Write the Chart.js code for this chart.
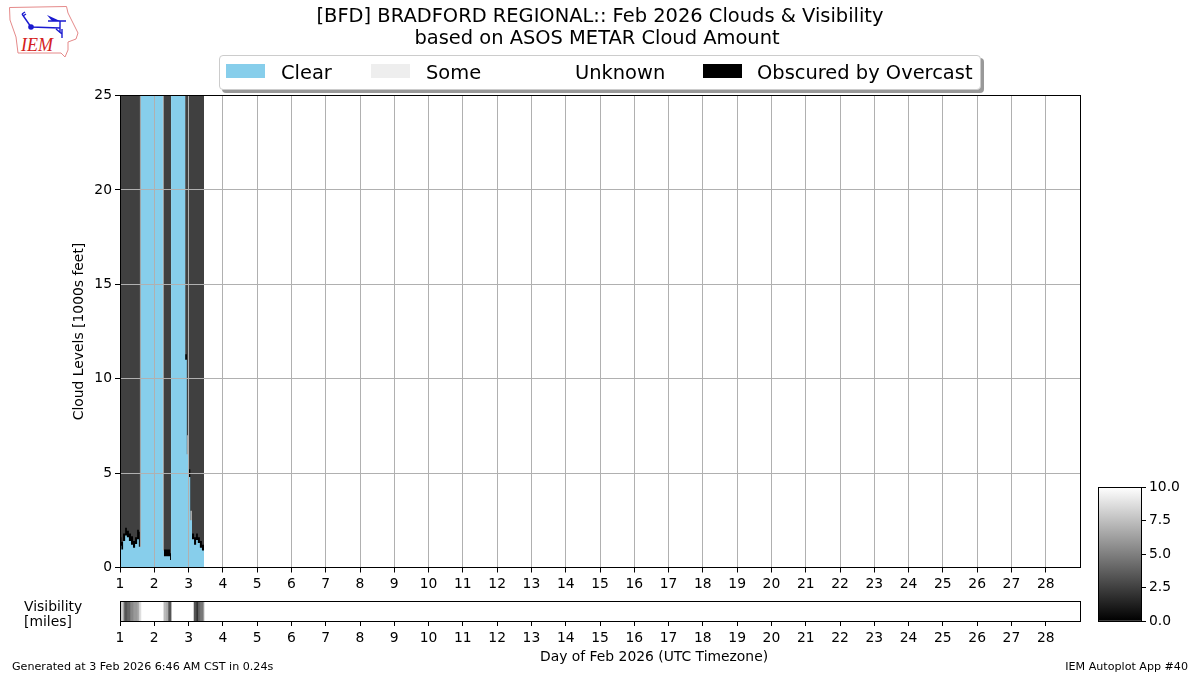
<!DOCTYPE html>
<html>
<head>
<meta charset="utf-8">
<title>BFD Clouds & Visibility</title>
<script src="https://cdn.jsdelivr.net/npm/chart.js@4"></script>
<style>
  html, body { margin: 0; padding: 0; background: #fff; }
  #page { position: relative; width: 1200px; height: 675px; overflow: hidden; font-family: "DejaVu Sans", sans-serif; color: #000; }
  #page canvas { position: absolute; left: 0; top: 0; }
  .txt { position: absolute; white-space: nowrap; line-height: 1; }
  #title { left: 0; width: 1200px; top: 5px; text-align: center; font-size: 19.44px; line-height: 22px; }
  #title span { position: relative; left: -3px; }
  #legend { position: absolute; left: 219px; top: 55px; width: 760px; height: 33px; border: 1px solid #ccc; border-radius: 4px; background: #fff; box-shadow: 3px 3px 0 #999; }
  .swatch { position: absolute; top: 8px; width: 39px; height: 14px; }
  .ltxt { position: absolute; top: 7px; font-size: 19.44px; line-height: 20px; white-space: nowrap; }
</style>
</head>
<body>
<div id="page">
  <svg style="position:absolute;left:0;top:0" width="90" height="62">
    <path d="M9.5 7.5 L66.5 6.5 L68 13 L74 25 L78 33 L76 39 L68 42 L68 50 L65 57 L61 53 L18 53 L16 37 L10 20 Z" fill="#fff" stroke="#e58a8a" stroke-width="1"/>
    <g stroke="#1a1ad0" stroke-width="1.4" fill="none">
      <path d="M31 27 L22 14 M22 14 L25 12 M23 16 L26 14 M31 27 L60 28 M60 21 L60 33 M48 21 L66 21 M56 29 L62 34 M62 29 L62 38"/>
    </g>
    <circle cx="31" cy="27" r="2.8" fill="#1a1ad0"/>
    <path d="M47 15 L60 21 L52 21 Z" fill="#1a1ad0"/>
    <text x="21" y="51" font-family="Liberation Serif" font-style="italic" font-size="18" fill="#d42020">IEM</text>
  </svg>
  <canvas id="mainChart" width="1200" height="675"></canvas>
  <canvas id="visChart" width="1200" height="675"></canvas>
  <canvas id="barChart" width="1200" height="675"></canvas>
  <div class="txt" id="title">[BFD] BRADFORD REGIONAL:: Feb 2026 Clouds &amp; Visibility<br><span>based on ASOS METAR Cloud Amount</span></div>
  <div id="legend"></div>
  <div class="txt" style="left:24px;top:599px;font-size:13.89px;line-height:15px">Visibility<br>[miles]</div>
  <div class="txt" style="left:540px;top:650px;font-size:13.89px">Day of Feb 2026 (UTC Timezone)</div>
  <div class="txt" style="left:12px;top:661px;font-size:11.11px">Generated at 3 Feb 2026 6:46 AM CST in 0.24s</div>
  <div class="txt" style="right:12px;top:661px;font-size:11.11px">IEM Autoplot App #40</div>
</div>
<script>
// tick labels
const dayTicks = [1,2,3,4,5,6,7,8,9,10,11,12,13,14,15,16,17,18,19,20,21,22,23,24,25,26,27,28];
const cloudTicks = [0,5,10,15,20,25];
const barTicks = [0,2.5,5,7.5,10];

// legend
const legendLabels = ["Clear","Some","Unknown","Obscured by Overcast"];
const legendColors = ["#87ceeb","#eeeeee","#ffffff","#000000"];

// cloud data, day of month and height in 1000s of feet (steps, value holds until next day)
const cloudDays =   [1.00,1.04,1.09,1.15,1.20,1.26,1.32,1.38,1.44,1.50,1.55,1.58,1.61,2.25,2.28,2.46,2.49,2.90,2.95,3.01,3.05,3.10,3.16,3.22,3.27,3.33,3.39,3.45];
const clearTop =    [1.15,0.95,1.40,1.70,1.60,1.40,1.20,1.05,1.25,1.50,1.10,1.10,25,  0.90,0.60,0.40,25,  11.0,6.0, 4.8, 2.5, 1.5, 1.2, 1.45,1.3, 1.05,0.9, 0];
const someTop =     [0,   0,   0,   0,   0,   0,   0,   0,   0,   0,   0,   25,  0,   25,  0,   0,   0,   0,   7.0, 0,   3.0, 0,   0,   0,   0,   0,   0,   0];
const blackTop =    [1.60,1.35,1.80,2.10,1.95,1.80,1.65,1.40,1.60,2.00,1.90,0,   0,   0,   0.95,0.75,0,   11.3,0,   5.2, 0,   1.8, 1.6, 1.8, 1.6, 1.4, 1.2, 0];
const overcastTop = [25,  25,  25,  25,  25,  25,  25,  25,  25,  25,  25,  25,  0,   25,  25,  25,  0,   25,  25,  25,  25,  25,  25,  25,  25,  25,  25,  0];

// visibility strip
const visStart = [1.00,1.09,1.12,1.20,1.29,1.38,1.50,1.55,2.28,2.34,2.40,3.16,3.22,3.27,3.33,3.42];
const visEnd =   [1.09,1.12,1.20,1.29,1.38,1.50,1.55,1.61,2.34,2.40,2.49,3.22,3.27,3.33,3.42,3.45];
const visMiles = [8.0, 5.3, 3.3, 4.0, 5.3, 6.0, 6.7, 8.7, 7.3, 6.7, 3.3, 3.3, 2.0, 4.0, 4.7, 6.7];

Chart.defaults.font.family = '"DejaVu Sans"';
Chart.defaults.font.size = 13.89;
Chart.defaults.color = "#000";
Chart.defaults.animation = false;
Chart.defaults.responsive = false;
Chart.defaults.plugins.legend.display = false;
Chart.defaults.plugins.tooltip.enabled = false;

// black box around a plot area
const framePlugin = {
  id: "frame",
  afterDraw(chart) {
    const a = chart.chartArea, c = chart.ctx;
    c.save();
    c.strokeStyle = "#000";
    c.lineWidth = 1;
    c.strokeRect(Math.round(a.left) + 0.5, Math.floor(a.top) + 0.5, Math.round(a.right - a.left), Math.round(a.bottom - a.top));
    c.restore();
  }
};

function stepSeries(values) {
  return values.map((v, i) => ({ x: cloudDays[i], y: v }));
}
function area(values, color) {
  return { data: stepSeries(values), stepped: "before", fill: "origin", backgroundColor: color, borderWidth: 0, pointRadius: 0 };
}
function dayScale() {
  return {
    type: "linear",
    min: 1,
    max: 29,
    afterBuildTicks: s => { s.ticks = dayTicks.map(v => ({ value: v })); },
    ticks: { autoSkip: false, maxRotation: 0, padding: 4 },
    border: { display: false }
  };
}

// main cloud chart, first dataset is painted on top
const mainX = dayScale();
mainX.grid = { color: "#b0b0b0", lineWidth: 1, tickColor: "#000", tickLength: 5, z: 1 };
mainX.afterFit = s => { s.height = 107.5; };
new Chart(document.getElementById("mainChart"), {
  type: "line",
  data: {
    datasets: [
      area(clearTop, "#87ceeb"),
      area(someTop, "#a8a8a8"),
      area(blackTop, "#000000"),
      area(overcastTop, "#404040")
    ]
  },
  options: {
    layout: { padding: { left: 71, top: 95.5, right: 120, bottom: 0 } },
    scales: {
      x: mainX,
      y: {
        min: 0,
        max: 25,
        afterBuildTicks: s => { s.ticks = cloudTicks.map(v => ({ value: v })); },
        afterFit: s => { s.width = 49; },
        title: { display: true, text: "Cloud Levels [1000s feet]", padding: { top: 0, bottom: 0 } },
        grid: { color: "#b0b0b0", lineWidth: 1, tickColor: "#000", tickLength: 5, z: 1 },
        ticks: { padding: 3 },
        border: { display: false }
      }
    }
  },
  plugins: [framePlugin]
});

// visibility strip
const visX = dayScale();
visX.grid = { drawOnChartArea: false, tickColor: "#000", tickLength: 5 };
visX.afterFit = s => { s.height = 54; };
new Chart(document.getElementById("visChart"), {
  type: "bar",
  data: {
    labels: ["Visibility"],
    datasets: visMiles.map((v, i) => {
      const g = Math.round(v / 10 * 255);
      return { data: [[visStart[i], visEnd[i]]], backgroundColor: `rgb(${g},${g},${g})`, grouped: false, barPercentage: 1, categoryPercentage: 1 };
    })
  },
  options: {
    indexAxis: "y",
    layout: { padding: { left: 120, top: 601, right: 120, bottom: 0 } },
    scales: {
      x: visX,
      y: { display: false }
    }
  },
  plugins: [framePlugin]
});

// colour bar
new Chart(document.getElementById("barChart"), {
  type: "bar",
  data: {
    labels: ["Visibility"],
    datasets: [{
      data: [[0, 10]],
      barPercentage: 1,
      categoryPercentage: 1,
      backgroundColor: ctx => {
        const a = ctx.chart.chartArea;
        if (!a) return "#888";
        const grad = ctx.chart.ctx.createLinearGradient(0, a.bottom, 0, a.top);
        grad.addColorStop(0, "#000");
        grad.addColorStop(1, "#fff");
        return grad;
      }
    }]
  },
  options: {
    layout: { padding: { left: 1098, top: 487, right: 0, bottom: 54 } },
    scales: {
      x: { display: false },
      y: {
        position: "right",
        min: 0,
        max: 10,
        afterBuildTicks: s => { s.ticks = barTicks.map(v => ({ value: v })); },
        afterFit: s => { s.width = 59; },
        afterTickToLabelConversion: s => { s.ticks.forEach(t => { t.label = t.value.toFixed(1); }); },
        grid: { drawOnChartArea: false, tickColor: "#000", tickLength: 5 },
        ticks: { padding: 3 },
        border: { display: false }
      }
    }
  },
  plugins: [framePlugin]
});

// legend box
const swatchLeft = [6, 151, 300, 483];
const labelLeft = [61, 206, 355, 537];
const legendBox = document.getElementById("legend");
legendLabels.forEach((name, i) => {
  const sw = document.createElement("div");
  sw.className = "swatch";
  sw.style.left = swatchLeft[i] + "px";
  sw.style.background = legendColors[i];
  legendBox.appendChild(sw);
  const lb = document.createElement("div");
  lb.className = "ltxt";
  lb.style.left = labelLeft[i] + "px";
  lb.textContent = name;
  legendBox.appendChild(lb);
});
</script>
</body>
</html>
